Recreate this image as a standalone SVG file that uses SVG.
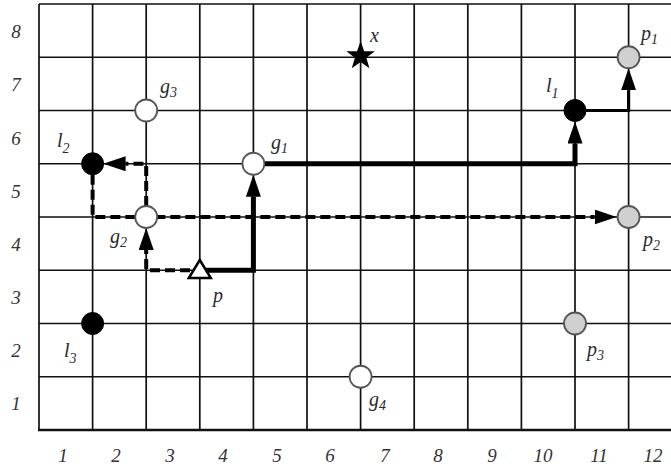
<svg xmlns="http://www.w3.org/2000/svg" width="671" height="469" viewBox="0 0 671 469">
<style>
.grid{stroke:#111;stroke-width:1.7;fill:none}
.ax{font-family:"Liberation Serif",serif;font-style:italic;font-size:19px;fill:#333;text-anchor:middle}
.lbl{font-family:"Liberation Serif",serif;font-style:italic;font-size:20px;fill:#2a2a2a}
.sub{font-size:14px}
.solid{stroke:#000;fill:none;stroke-linejoin:miter;stroke-linecap:butt}
.dash{stroke:#000;fill:none;stroke-width:4;stroke-dasharray:10 5}
.wc{fill:#fff;stroke:#555;stroke-width:1.8}
.bc{fill:#000;stroke:#000;stroke-width:1}
.gc{fill:#d0d0d0;stroke:#555;stroke-width:1.8}
</style>
<defs>
<marker id="ah" markerUnits="userSpaceOnUse" markerWidth="22" markerHeight="15" viewBox="0 0 22 15" refX="0" refY="7.5" orient="auto">
<path d="M0,0 L22,7.5 L0,15 z" fill="#000"/>
</marker>
</defs>
<rect width="671" height="469" fill="#fff"/>
<g id="grid">
<path class="grid" d="M39,4 H671 M39,57.25 H671 M39,110.5 H671 M39,163.75 H671 M39,217 H671 M39,270.25 H671 M39,323.5 H671 M39,376.75 H671"/>
<path class="grid" d="M39,4 V430 M92.6,4 V430 M146.2,4 V430 M199.8,4 V430 M253.4,4 V430 M307,4 V430 M360.6,4 V430 M414.2,4 V430 M467.8,4 V430 M521.4,4 V430 M575,4 V430 M628.6,4 V430"/>
<path d="M38,430 H671" stroke="#111" stroke-width="2.4"/>
</g>
<g id="axis">
<text class="ax" x="16" y="38">8</text>
<text class="ax" x="16" y="91">7</text>
<text class="ax" x="16" y="145">6</text>
<text class="ax" x="16" y="198">5</text>
<text class="ax" x="16" y="251">4</text>
<text class="ax" x="16" y="304">3</text>
<text class="ax" x="16" y="357">2</text>
<text class="ax" x="16" y="410">1</text>
<text class="ax" x="63" y="462">1</text>
<text class="ax" x="116" y="462">2</text>
<text class="ax" x="170" y="462">3</text>
<text class="ax" x="223" y="462">4</text>
<text class="ax" x="277" y="462">5</text>
<text class="ax" x="330" y="462">6</text>
<text class="ax" x="385" y="462">7</text>
<text class="ax" x="438" y="462">8</text>
<text class="ax" x="492" y="462">9</text>
<text class="ax" x="543" y="462">10</text>
<text class="ax" x="599" y="462">11</text>
<text class="ax" x="653" y="462">12</text>
</g>
<g id="connectors">
<path class="solid" stroke-width="5" d="M199.8,270.25 H253.4 V196.75" marker-end="url(#ah)"/>
<path class="solid" stroke-width="5" d="M264.4,163.75 H575 V143.5" marker-end="url(#ah)"/>
<path class="solid" stroke-width="3.2" d="M586,110.5 H628.6 V90.25" marker-end="url(#ah)"/>
<path class="dash" d="M190,270.25 H146.2 V250" marker-end="url(#ah)"/>
<path class="dash" d="M146.2,206 V163.75 H125.6" marker-end="url(#ah)"/>
<path class="dash" d="M92.6,174.75 V217 H594.6" marker-end="url(#ah)"/>
</g>
<g id="node-g3"><circle class="wc" cx="146.2" cy="110.5" r="11"/><text class="lbl" x="160" y="93">g<tspan class="sub" dy="4">3</tspan></text></g>
<g id="node-l2"><circle class="bc" cx="92.6" cy="163.75" r="11"/><text class="lbl" x="57" y="147">l<tspan class="sub" dy="6">2</tspan></text></g>
<g id="node-g2"><circle class="wc" cx="146.2" cy="217" r="11"/><text class="lbl" x="110" y="243">g<tspan class="sub" dy="4">2</tspan></text></g>
<g id="node-p"><polygon points="199.8,260 188.8,278 210.8,278" fill="#fff" stroke="#000" stroke-width="2.5" stroke-linejoin="miter"/><text class="lbl" x="213" y="302">p</text></g>
<g id="node-l3"><circle class="bc" cx="92.6" cy="323.5" r="11"/><text class="lbl" x="64" y="357">l<tspan class="sub" dy="6">3</tspan></text></g>
<g id="node-g1"><circle class="wc" cx="253.4" cy="163.75" r="11"/><text class="lbl" x="271" y="149">g<tspan class="sub" dy="4">1</tspan></text></g>
<g id="node-x"><polygon transform="translate(360.6,56)" points="0,-15 3.53,-4.85 14.27,-4.64 5.71,1.85 8.82,12.14 0,6 -8.82,12.14 -5.71,1.85 -14.27,-4.64 -3.53,-4.85" fill="#000"/><text class="lbl" x="370" y="42">x</text></g>
<g id="node-g4"><circle class="wc" cx="360.6" cy="376.75" r="11"/><text class="lbl" x="369" y="406">g<tspan class="sub" dy="4">4</tspan></text></g>
<g id="node-l1"><circle class="bc" cx="575" cy="110.5" r="11"/><text class="lbl" x="546" y="92">l<tspan class="sub" dy="6">1</tspan></text></g>
<g id="node-p1"><circle class="gc" cx="628.6" cy="57.25" r="11"/><text class="lbl" x="641" y="40">p<tspan class="sub" dy="4">1</tspan></text></g>
<g id="node-p2"><circle class="gc" cx="628.6" cy="217" r="11"/><text class="lbl" x="643" y="246">p<tspan class="sub" dy="4">2</tspan></text></g>
<g id="node-p3"><circle class="gc" cx="575" cy="323.5" r="11"/><text class="lbl" x="587" y="356">p<tspan class="sub" dy="4">3</tspan></text></g>
</svg>
